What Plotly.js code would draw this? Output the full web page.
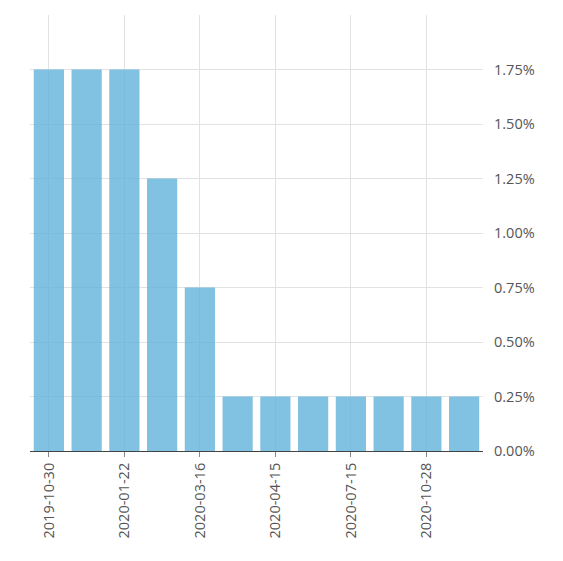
<!DOCTYPE html>
<html>
<head>
<meta charset="utf-8">
<script src="https://cdn.plot.ly/plotly-3.0.1.min.js"></script>
<style>
  html, body { margin: 0; padding: 0; background: #fff; }
  #myPlot { width: 563px; height: 561px; }
</style>
</head>
<body>
<div id="myPlot"></div>
<script>
// rate decision dates and policy rate (%)
let dates = ["2019-10-30", "2019-12-04", "2020-01-22", "2020-03-04", "2020-03-16", "2020-03-27",
             "2020-04-15", "2020-06-03", "2020-07-15", "2020-09-09", "2020-10-28", "2020-12-09"];
let rates = [1.75, 1.75, 1.75, 1.25, 0.75, 0.25, 0.25, 0.25, 0.25, 0.25, 0.25, 0.25];

let yTicks = [0, 0.25, 0.5, 0.75, 1.0, 1.25, 1.5, 1.75, 2.0];
let yLabels = ["0.00%", "0.25%", "0.50%", "0.75%", "1.00%", "1.25%", "1.50%", "1.75%", ""];

let xTicks = [];
for (let i = 0; i < dates.length; i += 2) {
  xTicks.push(dates[i]);
}

var trace1 = {
  x: dates,
  y: rates,
  type: 'bar',
  marker: { color: 'rgba(93, 176, 218, 0.78)' },
  hoverinfo: 'x+y'
};

var layout = {
  width: 563,
  height: 561,
  margin: { l: 30, r: 80, t: 15, b: 110 },
  bargap: 0.2,
  showlegend: false,
  paper_bgcolor: '#fff',
  plot_bgcolor: '#fff',
  font: { family: 'Open Sans, sans-serif', size: 14.5, color: '#555' },
  xaxis: {
    type: 'category',
    tickmode: 'array',
    tickvals: xTicks,
    ticktext: xTicks,
    tickangle: -90,
    showgrid: true,
    gridcolor: '#e2e2e2',
    showline: true,
    linecolor: '#444',
    linewidth: 1,
    ticks: 'outside',
    ticklen: 5,
    tickcolor: '#888'
  },
  yaxis: {
    side: 'right',
    range: [0, 2.0],
    tickmode: 'array',
    tickvals: yTicks,
    ticktext: yLabels,
    ticklabelstandoff: 10,
    showgrid: true,
    gridcolor: '#e2e2e2',
    zeroline: false,
    fixedrange: true
  }
};

Plotly.newPlot("myPlot", [trace1], layout, { displayModeBar: false, staticPlot: true });
</script>
</body>
</html>
